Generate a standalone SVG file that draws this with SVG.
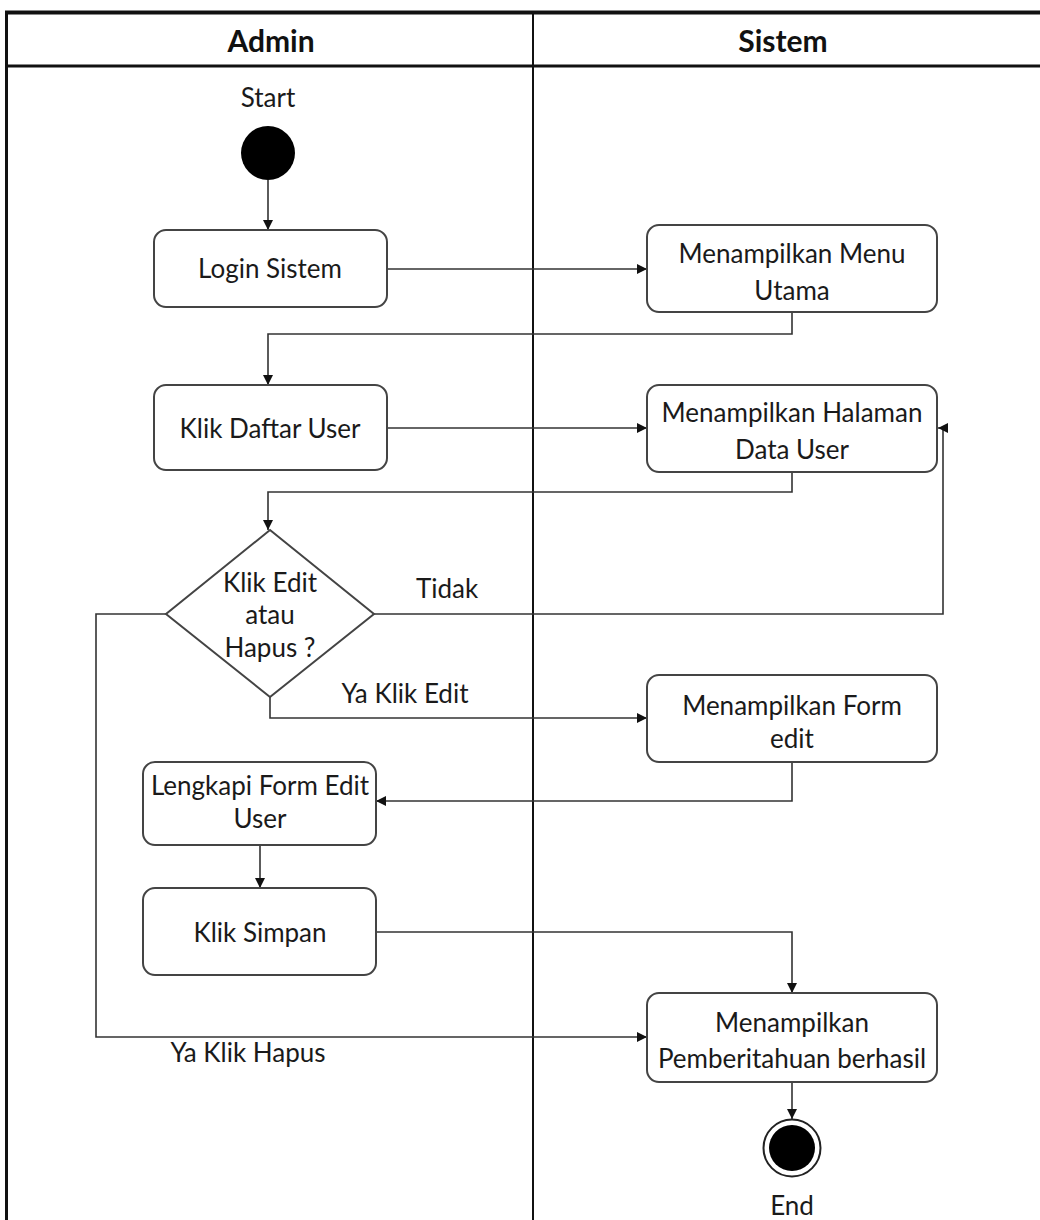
<svg xmlns="http://www.w3.org/2000/svg" width="1040" height="1220" viewBox="0 0 1040 1220">
  <style>
    .lane { stroke: #111; fill: none; }
    .box { fill: #fff; stroke: #444; stroke-width: 2; }
    .lbl { font-family: Lato, "Liberation Sans", sans-serif; font-size: 26px; fill: #1a1a1a; text-anchor: middle; dominant-baseline: central; }
    .head { font-family: Lato, "Liberation Sans", sans-serif; font-size: 30px; font-weight: bold; fill: #111; text-anchor: middle; dominant-baseline: central; }
    .edge { fill: none; stroke: #333; stroke-width: 1.6; marker-end: url(#arrow); }
  </style>
  <defs>
    <marker id="arrow" viewBox="0 0 10 10" refX="10" refY="5" markerWidth="10" markerHeight="10" markerUnits="userSpaceOnUse" orient="auto">
      <path d="M0,0 L10,5 L0,10 Z" fill="#111"/>
    </marker>
  </defs>

  <rect x="0" y="0" width="1040" height="1220" fill="#fff"/>

  <!-- swimlane frame -->
  <g id="lanes">
    <line class="lane" x1="5" y1="12.5" x2="1040" y2="12.5" stroke-width="4"/>
    <line class="lane" x1="5" y1="66" x2="1040" y2="66" stroke-width="3"/>
    <line class="lane" x1="6.5" y1="11" x2="6.5" y2="1220" stroke-width="3"/>
    <line class="lane" x1="533" y1="12" x2="533" y2="1220" stroke-width="2"/>
    <text class="head" x="271" y="40">Admin</text>
    <text class="head" x="783" y="40">Sistem</text>
  </g>

  <!-- connectors -->
  <g id="connectors">
    <path class="edge" d="M268,180 V230"/>
    <path class="edge" d="M387,269 H647"/>
    <path class="edge" d="M792,312 V334 H268 V385"/>
    <path class="edge" d="M387,428 H647"/>
    <path class="edge" d="M792,472 V492 H268 V530"/>
    <path class="edge" d="M374,614 H943 V428 H938"/>
    <path class="edge" d="M270,697 V718 H647"/>
    <path class="edge" d="M166,614 H96 V1037 H647"/>
    <path class="edge" d="M792,762 V801 H376"/>
    <path class="edge" d="M260,845 V888"/>
    <path class="edge" d="M376,932 H792 V993"/>
    <path class="edge" d="M792,1082 V1119"/>
    <text class="lbl" x="447" y="588">Tidak</text>
    <text class="lbl" x="405" y="693">Ya Klik Edit</text>
    <text class="lbl" x="248" y="1052">Ya Klik Hapus</text>
  </g>

  <g id="start">
    <text class="lbl" x="268" y="97">Start</text>
    <circle cx="268" cy="153" r="27" fill="#000"/>
  </g>

  <g id="login">
    <rect class="box" x="154" y="230" width="233" height="77" rx="12"/>
    <text class="lbl" x="270" y="268">Login Sistem</text>
  </g>

  <g id="menu-utama">
    <rect class="box" x="647" y="225" width="290" height="87" rx="12"/>
    <text class="lbl" x="792" y="253">Menampilkan Menu</text>
    <text class="lbl" x="792" y="290">Utama</text>
  </g>

  <g id="daftar-user">
    <rect class="box" x="154" y="385" width="233" height="85" rx="12"/>
    <text class="lbl" x="270" y="428">Klik Daftar User</text>
  </g>

  <g id="data-user">
    <rect class="box" x="647" y="385" width="290" height="87" rx="12"/>
    <text class="lbl" x="792" y="412">Menampilkan Halaman</text>
    <text class="lbl" x="792" y="449">Data User</text>
  </g>

  <g id="decision">
    <polygon class="box" points="270,530 374,614 270,697 166,614"/>
    <text class="lbl" x="270" y="582">Klik Edit</text>
    <text class="lbl" x="270" y="614">atau</text>
    <text class="lbl" x="270" y="647">Hapus ?</text>
  </g>

  <g id="form-edit">
    <rect class="box" x="647" y="675" width="290" height="87" rx="12"/>
    <text class="lbl" x="792" y="705">Menampilkan Form</text>
    <text class="lbl" x="792" y="738">edit</text>
  </g>

  <g id="lengkapi">
    <rect class="box" x="143" y="762" width="233" height="83" rx="12"/>
    <text class="lbl" x="260" y="785">Lengkapi Form Edit</text>
    <text class="lbl" x="260" y="818">User</text>
  </g>

  <g id="simpan">
    <rect class="box" x="143" y="888" width="233" height="87" rx="12"/>
    <text class="lbl" x="260" y="932">Klik Simpan</text>
  </g>

  <g id="berhasil">
    <rect class="box" x="647" y="993" width="290" height="89" rx="12"/>
    <text class="lbl" x="792" y="1022">Menampilkan</text>
    <text class="lbl" x="792" y="1058">Pemberitahuan berhasil</text>
  </g>

  <g id="end">
    <circle cx="792" cy="1148" r="28.5" fill="#fff" stroke="#222" stroke-width="2"/>
    <circle cx="792" cy="1148" r="23" fill="#000"/>
    <text class="lbl" x="792" y="1205">End</text>
  </g>
</svg>
